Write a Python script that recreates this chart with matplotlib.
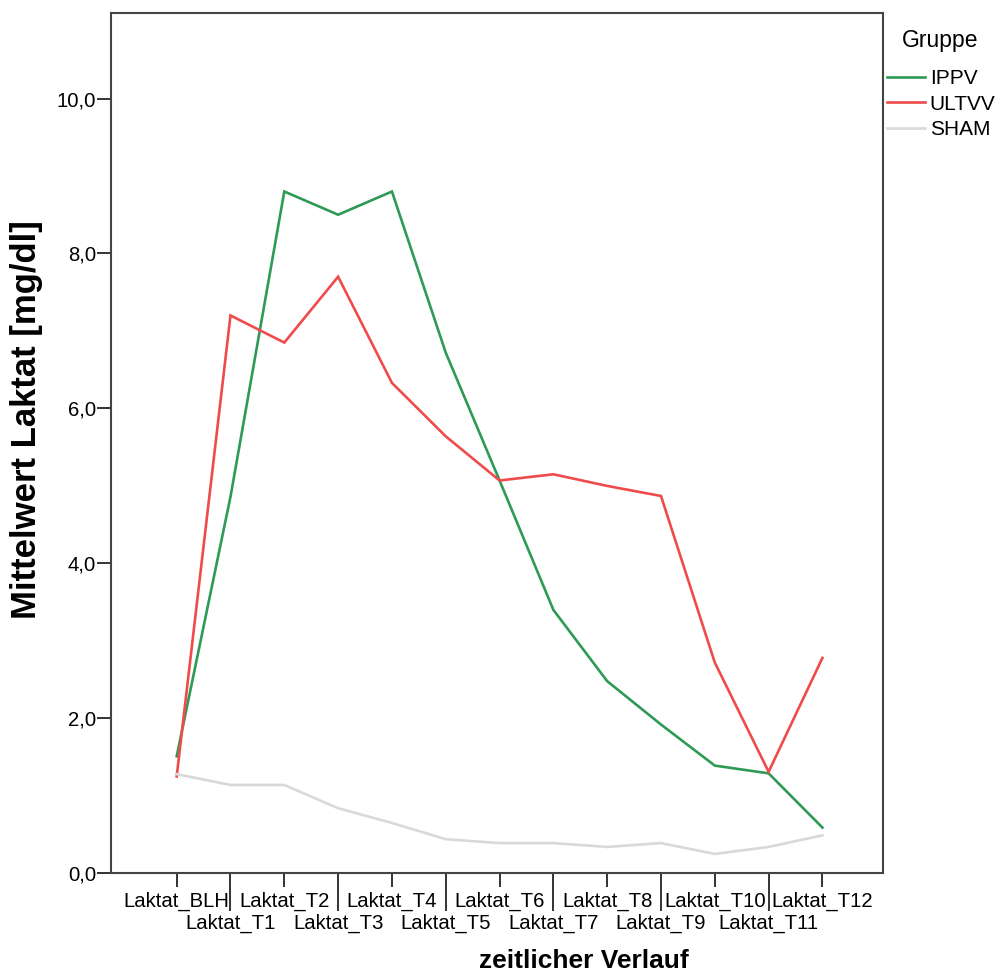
import matplotlib
matplotlib.use("Agg")
import matplotlib.pyplot as plt

plt.rcParams['font.family'] = ['Liberation Sans', 'DejaVu Sans']

# time points (x axis categories)
zeitpunkte = ["Laktat_BLH", "Laktat_T1", "Laktat_T2", "Laktat_T3", "Laktat_T4",
              "Laktat_T5", "Laktat_T6", "Laktat_T7", "Laktat_T8", "Laktat_T9",
              "Laktat_T10", "Laktat_T11", "Laktat_T12"]

# mean lactate per group [mg/dl]
ippv = [1.51, 4.86, 8.80, 8.50, 8.80, 6.72, 5.07, 3.40, 2.48, 1.92, 1.39, 1.29, 0.59]
ultvv = [1.25, 7.20, 6.85, 7.70, 6.33, 5.64, 5.07, 5.15, 5.00, 4.87, 2.72, 1.31, 2.78]
sham = [1.28, 1.14, 1.14, 0.84, 0.65, 0.44, 0.39, 0.39, 0.34, 0.39, 0.25, 0.34, 0.49]

gruppen = ["IPPV", "ULTVV", "SHAM"]
farben = ["#2e9a55", "#f04b4b", "#d9d9d9"]

W, H = 998, 977
fig = plt.figure(figsize=(W / 100, H / 100), dpi=100)
ax = fig.add_axes([111.3 / W, 1 - 873.3 / H, (882.7 - 111.3) / W, (873.3 - 13.3) / H])

x = list(range(len(zeitpunkte)))
linien = []
for werte, name, farbe in zip([ippv, ultvv, sham], gruppen, farben):
    l, = ax.plot(x, werte, color=farbe, lw=1.9, label=name, solid_joinstyle='miter')
    linien.append(l)

ax.set_xlim(-1.215, 13.12)
ax.set_ylim(0, 11.1)

# y axis
yt = [0, 2, 4, 6, 8, 10]
ax.set_yticks(yt)
ax.set_yticklabels([f"{v:.1f}".replace(".", ",") for v in yt])
ax.tick_params(axis='y', length=10, width=1.4, pad=1, labelsize=14.6, color='#333333')

# x axis: even categories on row 1, odd categories on row 2 (long ticks)
ax.set_xticks(x[0::2])
ax.set_xticklabels(zeitpunkte[0::2])
ax.set_xticks(x[1::2], minor=True)
ax.set_xticklabels(zeitpunkte[1::2], minor=True)
ax.tick_params(axis='x', which='major', length=10, width=1.4, pad=3, labelsize=14.6, color='#333333')
ax.tick_params(axis='x', which='minor', length=27, width=1.4, pad=2, labelsize=14.6, color='#333333')

for s in ax.spines.values():
    s.set_linewidth(1.5)
    s.set_color('#444444')

fig.text(27 / W, 1 - 420 / H, "Mittelwert Laktat [mg/dl]", rotation=90,
         ha='center', va='center', fontsize=25, fontweight='bold')
fig.text(584 / W, 1 - 968 / H, "zeitlicher Verlauf", ha='center', va='baseline',
         fontsize=19, fontweight='bold')

# legend
fig.text(940 / W, 1 - 40 / H, "Gruppe", ha='center', va='center', fontsize=16.5)
fig.legend(handles=linien, loc='upper left', bbox_to_anchor=(887 / W, 1 - 69 / H),
           frameon=False, borderpad=0, borderaxespad=0,
           fontsize=15, handlelength=1.8, handletextpad=0.25,
           labelspacing=0.32)

fig.savefig("out.png", dpi=100)
